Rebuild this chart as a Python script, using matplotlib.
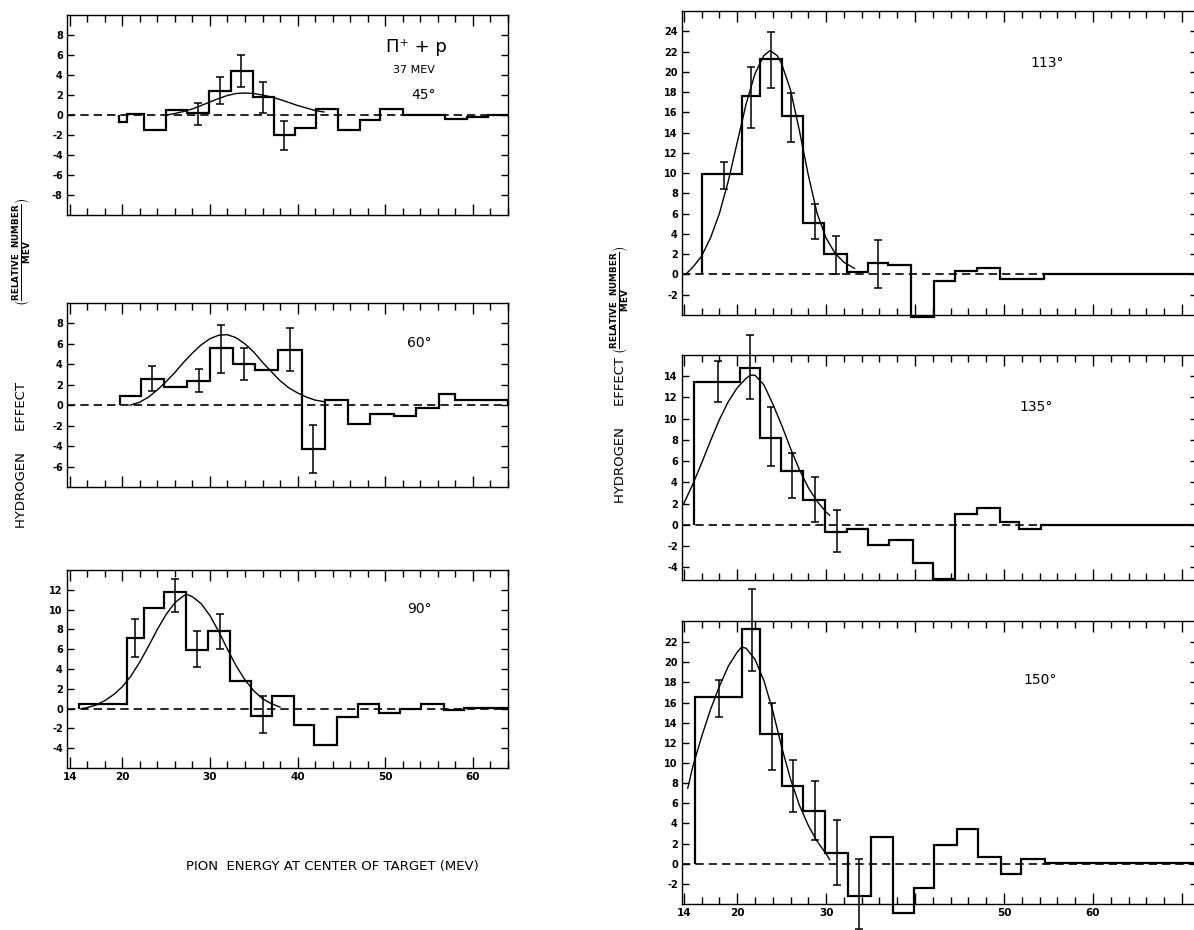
import numpy as np
import matplotlib.pyplot as plt

W, H = 1194, 930

# ---- 45 deg ----
edges_45 = [19.6, 20.6, 22.5, 25.0, 27.4, 29.85, 32.4, 34.9, 37.3, 39.7, 42.1,
            44.6, 47.1, 49.4, 52.0, 54.4, 56.8, 59.35, 61.7, 64.0]
vals_45 = [-0.7, 0.1, -1.5, 0.5, 0.2, 2.4, 4.4, 1.8, -2.0, -1.3, 0.6, -1.5,
           -0.5, 0.6, 0.0, 0.0, -0.4, -0.2, 0.0]
curve_x_45 = [25, 26, 27, 28, 29, 30, 31, 32, 33, 34, 35, 36, 37, 38, 39, 40, 41, 42, 43]
curve_y_45 = [0.0, 0.15, 0.35, 0.6, 0.95, 1.3, 1.65, 1.95, 2.15, 2.2, 2.15, 2.0,
              1.8, 1.55, 1.25, 0.95, 0.7, 0.45, 0.3]
err_x_45 = [28.6, 31.1, 33.6, 36.0, 38.5]
err_lo_45 = [-1.0, 1.1, 2.8, 0.2, -3.5]
err_hi_45 = [1.2, 3.8, 6.0, 3.3, -0.6]

# ---- 60 deg ----
edges_60 = [19.7, 22.1, 24.8, 27.4, 30.0, 32.6, 35.1, 37.75, 40.5, 43.1, 45.7,
            48.25, 51.0, 53.5, 56.1, 58.0, 64.0]
vals_60 = [0.9, 2.6, 1.8, 2.4, 5.6, 4.0, 3.4, 5.4, -4.3, 0.5, -1.8, -0.9, -1.1,
           -0.3, 1.1, 0.5]
curve_x_60 = [20.9, 22, 23, 24, 25, 26, 27, 28, 29, 30, 31, 32, 33, 34, 35, 36,
              37, 38, 39, 40, 41, 42, 43]
curve_y_60 = [0.0, 0.3, 0.8, 1.5, 2.3, 3.2, 4.2, 5.1, 5.9, 6.5, 6.85, 6.9, 6.6,
              6.0, 5.2, 4.2, 3.3, 2.4, 1.7, 1.2, 0.8, 0.5, 0.35]
err_x_60 = [23.4, 28.7, 31.3, 33.9, 39.1, 41.8]
err_lo_60 = [1.4, 1.3, 3.2, 2.5, 3.3, -6.6]
err_hi_60 = [3.8, 3.5, 7.8, 5.6, 7.6, -1.9]

# ---- 90 deg ----
edges_90 = [15.1, 20.5, 22.5, 24.8, 27.3, 29.8, 32.3, 34.7, 37.1, 39.6, 41.9,
            44.55, 46.9, 49.3, 51.7, 54.1, 56.75, 59.0, 64.0]
vals_90 = [0.5, 7.1, 10.2, 11.8, 5.9, 7.8, 2.8, -0.7, 1.3, -1.7, -3.7, -0.8,
           0.5, -0.4, 0.0, 0.5, -0.1, 0.1]
curve_x_90 = [15.4, 16, 17, 18, 19, 20, 21, 22, 23, 24, 25, 26, 27, 27.5, 28,
              29, 30, 31, 32, 33, 34, 35, 36, 37, 38]
curve_y_90 = [0.0, 0.1, 0.35, 0.8, 1.4, 2.2, 3.3, 4.7, 6.3, 8.0, 9.5, 10.7, 11.4,
              11.5, 11.3, 10.6, 9.4, 7.8, 6.0, 4.3, 2.9, 1.8, 1.0, 0.5, 0.15]
err_x_90 = [21.4, 26.05, 28.5, 31.1, 36.0]
err_lo_90 = [5.2, 9.8, 4.2, 6.0, -2.5]
err_hi_90 = [9.0, 13.1, 7.8, 9.6, 1.3]

# ---- 113 deg ----
edges_113 = [16.1, 20.5, 22.6, 25.0, 27.35, 29.8, 32.4, 34.7, 37.0, 39.6, 42.1,
             44.5, 47.0, 49.5, 54.5, 72.0]
vals_113 = [9.9, 17.6, 21.3, 15.6, 5.1, 2.0, 0.2, 1.1, 0.9, -4.15, -0.6, 0.3,
            0.6, -0.4, 0.0]
curve_x_113 = [14.2, 15, 16, 17, 18, 19, 20, 21, 22, 23, 23.7, 24.5, 25, 26, 27,
               28, 29, 30, 31, 32, 33.2]
curve_y_113 = [0.0, 0.7, 1.8, 3.6, 6.0, 9.2, 13.0, 16.8, 19.8, 21.6, 22.1, 21.6,
               20.8, 18.2, 14.2, 9.8, 6.0, 3.6, 2.1, 1.2, 0.6]
err_x_113 = [18.5, 21.6, 23.8, 26.1, 28.7, 31.1, 35.8]
err_lo_113 = [8.4, 14.5, 18.4, 13.1, 3.5, 0.0, -1.3]
err_hi_113 = [11.1, 20.5, 23.9, 17.9, 7.0, 3.8, 3.4]

# ---- 135 deg ----
edges_135 = [15.1, 20.3, 22.55, 24.95, 27.4, 29.9, 32.3, 34.7, 37.1, 39.75, 42.0,
             44.5, 47.0, 49.5, 51.7, 54.2, 72.0]
vals_135 = [13.5, 14.8, 8.2, 5.1, 2.3, -0.7, -0.4, -1.9, -1.4, -3.6, -5.1, 1.0,
            1.6, 0.3, -0.4, 0.0]
curve_x_135 = [14, 15, 16, 17, 18, 19, 20, 21, 21.5, 22, 23, 24, 25, 26, 27, 28,
               29, 30, 30.4]
curve_y_135 = [2.0, 3.8, 5.8, 7.9, 9.9, 11.6, 12.9, 13.8, 14.1, 14.1, 13.2, 11.4,
               9.4, 7.2, 5.2, 3.5, 2.2, 1.2, 0.9]
err_x_135 = [17.9, 21.5, 23.75, 26.2, 28.7, 31.2]
err_lo_135 = [11.6, 11.9, 5.5, 2.5, 0.3, -2.6]
err_hi_135 = [15.4, 17.9, 11.1, 6.8, 4.5, 1.4]

# ---- 150 deg ----
edges_150 = [15.3, 20.6, 22.6, 25.0, 27.4, 29.9, 32.5, 35.0, 37.5, 39.85, 42.1,
             44.7, 47.1, 49.7, 51.95, 54.6, 72.0]
vals_150 = [16.6, 23.3, 12.9, 7.7, 5.2, 1.1, -3.2, 2.7, -4.9, -2.4, 1.9, 3.4,
            0.7, -1.0, 0.5, 0.1]
curve_x_150 = [14.45, 15, 16, 17, 18, 19, 20, 20.5, 21, 22, 23, 24, 25, 26, 27,
               28, 29, 30, 30.4]
curve_y_150 = [7.5, 9.6, 12.6, 15.3, 17.6, 19.6, 21.0, 21.5, 21.4, 20.3, 18.2,
               15.2, 11.6, 8.4, 5.8, 3.8, 2.2, 1.0, 0.4]
err_x_150 = [18.0, 21.7, 23.9, 26.3, 28.7, 31.25, 33.75]
err_lo_150 = [14.6, 19.1, 9.3, 5.1, 2.4, -2.1, -6.5]
err_hi_150 = [18.2, 27.3, 16.0, 10.3, 8.2, 4.3, 0.5]

x_tick_vals = [14, 20, 30, 40, 50, 60, 70]
x_labels_left = ['14', '20', '30', '40', '50', '60', '']
x_labels_right = ['14', '20', '30', '', '50', '60', '']

fig = plt.figure(figsize=(W / 100, H / 100), dpi=100, facecolor='white')


def px_axes(x0, y0, x1, y1):
    return fig.add_axes([x0 / W, 1 - y1 / H, (x1 - x0) / W, (y1 - y0) / H])


def panel(ax, edges, vals, cx, cy, ex, elo, ehi, xlim, ylim, yt, label, lxy, xlabels=None):
    ax.axhline(0, color='k', lw=1.2, ls=(0, (5, 3)), zorder=1)
    ax.stairs(vals, edges, baseline=0, color='k', lw=1.6, clip_on=False, zorder=3)
    ax.plot(cx, cy, color='k', lw=1.0, zorder=2)
    elo = np.array(elo)
    ehi = np.array(ehi)
    ax.errorbar(ex, (elo + ehi) / 2, yerr=(ehi - elo) / 2, fmt='none', ecolor='k',
                elinewidth=1.1, capsize=3, capthick=1.1, clip_on=False, zorder=3)
    ax.set_yticks(yt)
    ax.set_yticklabels([str(v) for v in yt], fontsize=7, fontweight='bold')
    ax.set_xticks(x_tick_vals)
    ax.set_xticks([v for v in range(16, 72, 2) if v % 10 != 0], minor=True)
    if xlabels is None:
        ax.set_xticklabels([])
    else:
        ax.set_xticklabels(xlabels, fontsize=7.5, fontweight='bold')
    ax.set_xlim(*xlim)
    ax.set_ylim(*ylim)
    ax.tick_params(which='both', direction='in', top=True, right=True, width=1.0, pad=3)
    ax.tick_params(which='major', length=8)
    ax.tick_params(which='minor', length=5)
    ax.tick_params(axis='y', length=5)
    for s in ax.spines.values():
        s.set_linewidth(1.0)
    ax.text(lxy[0], lxy[1], label, fontsize=10, ha='center', va='center')


left_x = (13.7, 64.0)
right_x = (13.8, 71.7)

ax1 = px_axes(67, 15, 508, 215)
panel(ax1, edges_45, vals_45, curve_x_45, curve_y_45, err_x_45, err_lo_45, err_hi_45,
      left_x, (-10, 10), list(range(-8, 9, 2)), '45°', (54.4, 2.0))
ax1.text(53.6, 6.8, 'Π⁺ + p', fontsize=13, ha='center', va='center')
ax1.text(53.3, 4.5, '37 MEV', fontsize=8, ha='center', va='center')

ax2 = px_axes(67, 303, 508, 487)
panel(ax2, edges_60, vals_60, curve_x_60, curve_y_60, err_x_60, err_lo_60, err_hi_60,
      left_x, (-8, 10), list(range(-6, 9, 2)), '60°', (53.9, 6.1))

ax3 = px_axes(67, 570, 508, 768)
panel(ax3, edges_90, vals_90, curve_x_90, curve_y_90, err_x_90, err_lo_90, err_hi_90,
      left_x, (-6, 14), list(range(-4, 13, 2)), '90°', (53.9, 10.1), x_labels_left)

ax4 = px_axes(682, 11, 1197, 315)
panel(ax4, edges_113, vals_113, curve_x_113, curve_y_113, err_x_113, err_lo_113, err_hi_113,
      right_x, (-4, 26), list(range(-2, 25, 2)), '113°', (54.9, 20.9))

ax5 = px_axes(682, 355, 1197, 580)
panel(ax5, edges_135, vals_135, curve_x_135, curve_y_135, err_x_135, err_lo_135, err_hi_135,
      right_x, (-5.2, 16), list(range(-4, 15, 2)), '135°', (53.6, 11.1))

ax6 = px_axes(682, 621, 1197, 904)
panel(ax6, edges_150, vals_150, curve_x_150, curve_y_150, err_x_150, err_lo_150, err_hi_150,
      right_x, (-4, 24.1), list(range(-2, 23, 2)), '150°', (54.1, 18.2), x_labels_right)

frac = r'$\left(\frac{\mathbf{RELATIVE\ \ NUMBER}}{\mathbf{MEV}}\right)$'
for xc, yf, yh in [(22, 252, 455), (620, 300, 430)]:
    fig.text(xc / W, 1 - yf / H, frac, rotation=90, fontsize=9, ha='center', va='center')
    fig.text(xc / W, 1 - yh / H, 'HYDROGEN     EFFECT', rotation=90, fontsize=9.5,
             ha='center', va='center')

fig.text(332 / W, 1 - 866 / H, 'PION  ENERGY AT CENTER OF TARGET (MEV)', fontsize=9.5,
         ha='center', va='center')

fig.savefig('out.png', dpi=100, facecolor='white')
